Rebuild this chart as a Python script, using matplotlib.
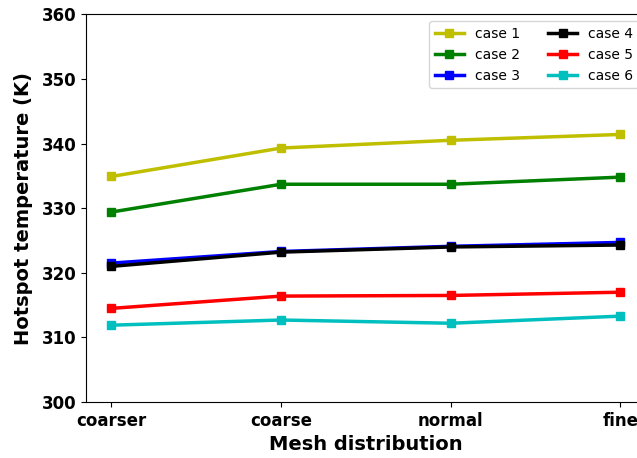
import matplotlib
matplotlib.use("Agg")
import matplotlib.pyplot as plt

meshes = ["coarser", "coarse", "normal", "fine"]
case_labels = ["case 1", "case 2", "case 3", "case 4", "case 5", "case 6"]
case1 = [334.9, 339.3, 340.5, 341.4]
case2 = [329.4, 333.7, 333.7, 334.8]
case3 = [321.5, 323.3, 324.1, 324.7]
case4 = [321.0, 323.2, 324.0, 324.3]
case5 = [314.5, 316.4, 316.5, 317.0]
case6 = [311.9, 312.7, 312.2, 313.3]
colors = ["y", "g", "b", "k", "r", "c"]

fig = plt.figure(figsize=(6.37, 4.58), dpi=100)
# axes deliberately runs past the right edge, as in the cropped original
ax = fig.add_axes([0.135, 0.122, 0.879, 0.847])

x = range(len(meshes))
for vals, lab, col in zip([case1, case2, case3, case4, case5, case6], case_labels, colors):
    ax.plot(x, vals, marker="s", color=col, linewidth=2.5, markersize=6, label=lab)

ax.set_ylim(300, 360)
ax.set_xticks(list(x))
ax.set_xticklabels(meshes)
for t in ax.get_xticklabels() + ax.get_yticklabels():
    t.set_fontweight("bold")
    t.set_fontsize(12)
ax.set_xlabel("Mesh distribution", fontsize=14, fontweight="bold")
ax.set_ylabel("Hotspot temperature (K)", fontsize=14, fontweight="bold", labelpad=6)
ax.legend(ncol=2, loc="upper right", fontsize=10, handlelength=2.1)

fig.savefig("out.png", dpi=100)
